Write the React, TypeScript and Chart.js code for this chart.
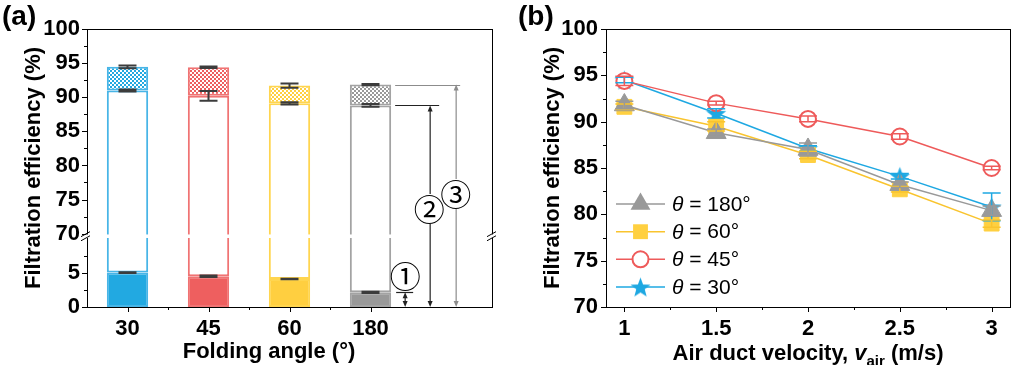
import React, { useEffect, useRef } from 'react';
import { Chart, registerables } from 'chart.js';

Chart.register(...registerables);

const FONT = "'Liberation Sans', Arial, Helvetica, sans-serif";
const CIRCLED_FONT = "'Noto Sans CJK SC', 'DejaVu Sans', sans-serif";

// ---------------- Panel (a) data ----------------
const angleLabels = ['30', '45', '60', '180'];
const mediaEff = [5.05, 4.5, 4.1, 2.15]; // ① filter media
const mediaErr = [0.05, 0.1, 0.05, 0.1];
const pleatEff = [91.0, 90.2, 89.1, 88.8]; // ② pleated
const pleatErr = [0.15, 0.7, 0.15, 0.2];
const totalEff = [94.45, 94.4, 91.7, 91.85]; // ③ total
const totalErr = [0.2, 0.12, 0.3, 0.08];
const barFill = ['#22a9e1', '#ee5f5f', '#ffcf40', '#999999'];
const barEdge = ['#48b5e7', '#f07373', '#ffd54f', '#a3a3a3'];
const yTicksA = [0, 5, 70, 75, 80, 85, 90, 95, 100];
const yMinorA = [2.5, 7.5, 72.5, 77.5, 82.5, 87.5, 92.5, 97.5];
const LOW_MAX = 10;
const HIGH_MIN = 70;
const GAP = 0.75;

// ---------------- Panel (b) data ----------------
const velocity = [1, 1.5, 2, 2.5, 3];
const xMinorB = [1.25, 1.75, 2.25, 2.75];
const yMinorB = [72.5, 77.5, 82.5, 87.5, 92.5, 97.5];
const seriesLabels = ['180°', '60°', '45°', '30°'];
const eff180 = [91.8, 88.8, 87.0, 83.2, 80.4];
const err180 = [0.4, 0.4, 0.7, 0.3, 0.5];
const eff60 = [91.6, 89.5, 86.4, 82.7, 79.0];
const err60 = [0.3, 0.5, 0.4, 0.3, 0.4];
const eff45 = [94.4, 92.0, 90.3, 88.4, 85.0];
const err45 = [0.5, 0.2, 0.3, 0.3, 0.2];
const eff30 = [94.5, 90.9, 87.1, 84.1, 80.8];
const err30 = [0.3, 0.5, 0.3, 0.3, 1.5];
const lineColors = ['#999999', '#f9c42e', '#ee5a5a', '#1ea8e2'];
const markerFill = ['#999999', '#ffd040', '#ffffff', '#1ea8e2'];

const brkA = (v: number) => (v <= LOW_MAX ? v : v - HIGH_MIN + LOW_MAX + GAP);
const unbrkA = (t: number) => (t <= LOW_MAX + GAP / 2 ? t : t - LOW_MAX - GAP + HIGH_MIN);

function makeHatch(color: string) {
  const c = document.createElement('canvas');
  c.width = 4;
  c.height = 4;
  const g = c.getContext('2d')!;
  g.fillStyle = '#ffffff';
  g.fillRect(0, 0, 4, 4);
  g.fillStyle = color;
  g.fillRect(0, 0, 2, 2);
  g.fillRect(2, 2, 2, 2);
  return g.createPattern(c, 'repeat')!;
}

function starPath(g: CanvasRenderingContext2D, cx: number, cy: number, R: number) {
  const r = R * 0.42;
  g.beginPath();
  for (let k = 0; k < 10; k++) {
    const ang = -Math.PI / 2 + (k * Math.PI) / 5;
    const rr = k % 2 === 0 ? R : r;
    g.lineTo(cx + rr * Math.cos(ang), cy + rr * Math.sin(ang));
  }
  g.closePath();
}

function makeStar(color: string, R: number) {
  const size = Math.ceil(R * 2 + 2);
  const c = document.createElement('canvas');
  c.width = size;
  c.height = size;
  const g = c.getContext('2d')!;
  starPath(g, size / 2, size / 2 + 1, R);
  g.fillStyle = color;
  g.fill();
  return c;
}

function drawErr(ctx: CanvasRenderingContext2D, x: number, yLo: number, yHi: number, half: number) {
  ctx.beginPath();
  ctx.moveTo(x, yLo);
  ctx.lineTo(x, yHi);
  ctx.moveTo(x - half, yLo);
  ctx.lineTo(x + half, yLo);
  ctx.moveTo(x - half, yHi);
  ctx.lineTo(x + half, yHi);
  ctx.stroke();
}

function arrowHead(ctx: CanvasRenderingContext2D, x: number, y: number, dir: number) {
  ctx.beginPath();
  ctx.moveTo(x, y);
  ctx.lineTo(x - 2.5, y - dir * 6);
  ctx.lineTo(x + 2.5, y - dir * 6);
  ctx.closePath();
  ctx.fill();
}

function vArrow(ctx: CanvasRenderingContext2D, x: number, yTop: number, yBot: number, breakAt: number | null, color: string) {
  ctx.strokeStyle = color;
  ctx.fillStyle = color;
  ctx.lineWidth = 1.2;
  ctx.beginPath();
  if (breakAt === null) {
    ctx.moveTo(x, yTop + 4);
    ctx.lineTo(x, yBot - 4);
  } else {
    ctx.moveTo(x, yTop + 4);
    ctx.lineTo(x, breakAt - 15);
    ctx.moveTo(x, breakAt + 15);
    ctx.lineTo(x, yBot - 4);
  }
  ctx.stroke();
  arrowHead(ctx, x, yTop, -1);
  arrowHead(ctx, x, yBot, 1);
}

function hLine(ctx: CanvasRenderingContext2D, x0: number, x1: number, y: number, color: string) {
  ctx.strokeStyle = color;
  ctx.lineWidth = 1.2;
  ctx.beginPath();
  ctx.moveTo(x0, Math.round(y) + 0.5);
  ctx.lineTo(x1, Math.round(y) + 0.5);
  ctx.stroke();
}

function drawFrame(chart: any) {
  const { ctx, chartArea: a } = chart;
  ctx.save();
  ctx.strokeStyle = '#000';
  ctx.lineWidth = 1;
  ctx.strokeRect(Math.round(a.left) + 0.5, Math.round(a.top) + 0.5, Math.round(a.right - a.left), Math.round(a.bottom - a.top));
  ctx.restore();
}

function yTitle(chart: any, text: string) {
  const { ctx, chartArea: a } = chart;
  ctx.save();
  ctx.translate(a.left - 53, (a.top + a.bottom) / 2);
  ctx.rotate(-Math.PI / 2);
  ctx.font = `bold 22px ${FONT}`;
  ctx.fillStyle = '#000';
  ctx.textAlign = 'center';
  ctx.textBaseline = 'middle';
  ctx.fillText(text, 0, 0);
  ctx.restore();
}

function panelLetter(chart: any, text: string, x: number) {
  const ctx = chart.ctx;
  ctx.save();
  ctx.font = `bold 28px ${FONT}`;
  ctx.fillStyle = '#000';
  ctx.textAlign = 'left';
  ctx.textBaseline = 'alphabetic';
  ctx.fillText(text, x, 25);
  ctx.restore();
}

const panelAPlugin = {
  id: 'panelA',
  afterDatasetsDraw(chart: any) {
    const { ctx } = chart;
    const xs = chart.scales.x;
    const ys = chart.scales.y;
    ctx.save();
    ctx.strokeStyle = '#3c3c3c';
    ctx.lineWidth = 2;
    angleLabels.forEach((_, i) => {
      const x = xs.getPixelForValue(i);
      drawErr(ctx, x, ys.getPixelForValue(brkA(mediaEff[i] - mediaErr[i])), ys.getPixelForValue(brkA(mediaEff[i] + mediaErr[i])), 9);
      drawErr(ctx, x, ys.getPixelForValue(brkA(pleatEff[i] - pleatErr[i])), ys.getPixelForValue(brkA(pleatEff[i] + pleatErr[i])), 9);
      drawErr(ctx, x, ys.getPixelForValue(brkA(totalEff[i] - totalErr[i])), ys.getPixelForValue(brkA(totalEff[i] + totalErr[i])), 9);
    });
    ctx.restore();
  },
  afterDraw(chart: any) {
    const { ctx, chartArea: a } = chart;
    const xs = chart.scales.x;
    const ys = chart.scales.y;
    drawFrame(chart);
    ctx.save();
    ctx.strokeStyle = '#000';
    ctx.lineWidth = 1;
    yTicksA.forEach((t) => {
      const y = Math.round(ys.getPixelForValue(brkA(t))) + 0.5;
      ctx.beginPath();
      ctx.moveTo(a.left - 5, y);
      ctx.lineTo(a.left, y);
      ctx.stroke();
    });
    yMinorA.forEach((t) => {
      const y = Math.round(ys.getPixelForValue(brkA(t))) + 0.5;
      ctx.beginPath();
      ctx.moveTo(a.left - 3, y);
      ctx.lineTo(a.left, y);
      ctx.stroke();
    });
    angleLabels.forEach((_, i) => {
      const x = Math.round(xs.getPixelForValue(i)) + 0.5;
      ctx.beginPath();
      ctx.moveTo(x, a.bottom);
      ctx.lineTo(x, a.bottom + 5);
      ctx.stroke();
      if (i < angleLabels.length - 1) {
        const xm = Math.round((xs.getPixelForValue(i) + xs.getPixelForValue(i + 1)) / 2) + 0.5;
        ctx.beginPath();
        ctx.moveTo(xm, a.bottom);
        ctx.lineTo(xm, a.bottom + 3);
        ctx.stroke();
      }
    });
    // axis break
    const yHi = ys.getPixelForValue(brkA(HIGH_MIN));
    const yLo = ys.getPixelForValue(LOW_MAX);
    ctx.fillStyle = '#ffffff';
    ctx.fillRect(a.left - 1, yHi + 0.8, a.right - a.left + 3, yLo - yHi - 1.6);
    ctx.strokeStyle = '#000';
    ctx.lineWidth = 1;
    [a.left - 1, a.right].forEach((x) => {
      [yHi + 0.5, yLo - 0.5].forEach((y) => {
        ctx.beginPath();
        ctx.moveTo(x - 5, y + 2.5);
        ctx.lineTo(x + 4, y - 2.5);
        ctx.stroke();
      });
    });
    // annotations on the 180° bar
    const bar = chart.getDatasetMeta(0).data[3];
    const re = bar.x + bar.width / 2;
    const y0 = ys.getPixelForValue(0);
    const y1 = ys.getPixelForValue(brkA(mediaEff[3]));
    const y2 = ys.getPixelForValue(brkA(pleatEff[3]));
    const y3 = ys.getPixelForValue(brkA(totalEff[3]));
    hLine(ctx, re + 4, re + 69, y3, '#8c8c8c');
    hLine(ctx, re + 4, re + 48, y2, '#222');
    hLine(ctx, re + 5, re + 22, y1, '#222');
    const l2 = 209;
    const l3 = 194;
    vArrow(ctx, re + 14, y1, y0, null, '#222');
    vArrow(ctx, re + 39, y2, y0, l2, '#222');
    vArrow(ctx, re + 65, y3, y0, l3, '#8c8c8c');
    ctx.fillStyle = '#000';
    ctx.font = `31px ${CIRCLED_FONT}`;
    ctx.textAlign = 'center';
    ctx.textBaseline = 'middle';
    ctx.fillText('①', re + 14, y1 - 16);
    ctx.fillText('②', re + 38, l2);
    ctx.fillText('③', re + 64.5, l3);
    ctx.font = `bold 22px ${FONT}`;
    ctx.fillStyle = '#000';
    ctx.textAlign = 'center';
    ctx.textBaseline = 'middle';
    ctx.fillText('Folding angle (°)', 269, 352);
    ctx.restore();
    yTitle(chart, 'Filtration efficiency (%)');
    panelLetter(chart, '(a)', 2);
  },
};

function drawMarker(ctx: CanvasRenderingContext2D, k: number, x: number, y: number, star: HTMLCanvasElement) {
  ctx.save();
  if (k === 0) {
    const r = 11.5;
    ctx.beginPath();
    ctx.moveTo(x, y - r);
    ctx.lineTo(x + r * Math.sin((2 * Math.PI) / 3), y - r * Math.cos((2 * Math.PI) / 3));
    ctx.lineTo(x + r * Math.sin((4 * Math.PI) / 3), y - r * Math.cos((4 * Math.PI) / 3));
    ctx.closePath();
    ctx.fillStyle = markerFill[0];
    ctx.fill();
  } else if (k === 1) {
    const s = 10.5 * Math.SQRT1_2;
    ctx.fillStyle = markerFill[1];
    ctx.fillRect(x - s, y - s, 2 * s, 2 * s);
  } else if (k === 2) {
    ctx.beginPath();
    ctx.arc(x, y, 8, 0, Math.PI * 2);
    ctx.fillStyle = '#fff';
    ctx.fill();
    ctx.strokeStyle = lineColors[2];
    ctx.lineWidth = 2;
    ctx.stroke();
  } else {
    ctx.drawImage(star, x - star.width / 2, y - star.height / 2);
  }
  ctx.restore();
}

function makePanelBPlugin(star: HTMLCanvasElement) {
  const effs = [eff180, eff60, eff45, eff30];
  const errs = [err180, err60, err45, err30];
  return {
    id: 'panelB',
    afterDatasetsDraw(chart: any) {
      const { ctx } = chart;
      const xs = chart.scales.x;
      const ys = chart.scales.y;
      ctx.save();
      ctx.lineWidth = 1.5;
      for (let k = effs.length - 1; k >= 0; k--) {
        ctx.strokeStyle = lineColors[k];
        velocity.forEach((v, i) => {
          const x = xs.getPixelForValue(v);
          drawErr(ctx, x, ys.getPixelForValue(effs[k][i] - errs[k][i]), ys.getPixelForValue(effs[k][i] + errs[k][i]), 9);
        });
      }
      ctx.restore();
    },
    afterDraw(chart: any) {
      const { ctx, chartArea: a } = chart;
      const xs = chart.scales.x;
      const ys = chart.scales.y;
      drawFrame(chart);
      ctx.save();
      ctx.strokeStyle = '#000';
      ctx.lineWidth = 1;
      for (let t = 70; t <= 100; t += 5) {
        const y = Math.round(ys.getPixelForValue(t)) + 0.5;
        ctx.beginPath();
        ctx.moveTo(a.left - 5, y);
        ctx.lineTo(a.left, y);
        ctx.stroke();
      }
      yMinorB.forEach((t) => {
        const y = Math.round(ys.getPixelForValue(t)) + 0.5;
        ctx.beginPath();
        ctx.moveTo(a.left - 3, y);
        ctx.lineTo(a.left, y);
        ctx.stroke();
      });
      velocity.forEach((v) => {
        const x = Math.round(xs.getPixelForValue(v)) + 0.5;
        ctx.beginPath();
        ctx.moveTo(x, a.bottom);
        ctx.lineTo(x, a.bottom + 5);
        ctx.stroke();
      });
      xMinorB.forEach((v) => {
        const x = Math.round(xs.getPixelForValue(v)) + 0.5;
        ctx.beginPath();
        ctx.moveTo(x, a.bottom);
        ctx.lineTo(x, a.bottom + 3);
        ctx.stroke();
      });
      // legend
      const lx0 = a.left + 10;
      const lx1 = a.left + 59;
      const rowY = [204, 231.7, 259.3, 287];
      seriesLabels.forEach((lab, k) => {
        const y = rowY[k];
        ctx.strokeStyle = lineColors[k];
        ctx.lineWidth = 1.5;
        ctx.beginPath();
        ctx.moveTo(lx0, y);
        ctx.lineTo(lx1, y);
        ctx.stroke();
        drawMarker(ctx, k, (lx0 + lx1) / 2, y, star);
        ctx.fillStyle = '#000';
        ctx.textAlign = 'left';
        ctx.textBaseline = 'middle';
        let x = lx1 + 7;
        ctx.font = `italic 21px ${FONT}`;
        ctx.fillText('θ', x, y + 1);
        x += ctx.measureText('θ').width;
        ctx.font = `21px ${FONT}`;
        ctx.fillText(' = ' + lab, x, y + 1);
      });
      const parts = [
        { t: 'Air duct velocity, ', f: `bold 22px ${FONT}`, dy: 0 },
        { t: 'v', f: `italic bold 22px ${FONT}`, dy: 0 },
        { t: 'air', f: `bold 15px ${FONT}`, dy: 6 },
        { t: ' (m/s)', f: `bold 22px ${FONT}`, dy: 0 },
      ];
      let total = 0;
      parts.forEach((p) => {
        ctx.font = p.f;
        total += ctx.measureText(p.t).width;
      });
      let x = (a.left + a.right) / 2 - total / 2;
      ctx.fillStyle = '#000';
      ctx.textAlign = 'left';
      ctx.textBaseline = 'alphabetic';
      parts.forEach((p) => {
        ctx.font = p.f;
        ctx.fillText(p.t, x, 360 + p.dy);
        x += ctx.measureText(p.t).width;
      });
      ctx.restore();
      yTitle(chart, 'Filtration efficiency (%)');
      panelLetter(chart, '(b)', 6);
    },
  };
}

const tickFont = { family: FONT, size: 22, weight: 'bold' as const };

export default function App() {
  const refA = useRef<HTMLCanvasElement | null>(null);
  const refB = useRef<HTMLCanvasElement | null>(null);

  useEffect(() => {
    const hatches = barFill.map((c) => makeHatch(c));
    const common = {
      borderColor: barEdge,
      borderWidth: 2,
      borderSkipped: false,
      grouped: false,
      barPercentage: 0.51,
      categoryPercentage: 1,
    };
    const chartA = new Chart(refA.current!, {
      type: 'bar',
      data: {
        labels: [...angleLabels, ''],
        datasets: [
          { label: 'media', data: mediaEff.map((v) => [0, brkA(v)]) as any, backgroundColor: barFill, ...common } as any,
          { label: 'pleat', data: pleatEff.map((v, i) => [brkA(mediaEff[i]), brkA(v)]) as any, backgroundColor: '#ffffff', ...common } as any,
          { label: 'total', data: totalEff.map((v, i) => [brkA(pleatEff[i]), brkA(v)]) as any, backgroundColor: hatches, ...common } as any,
        ],
      },
      options: {
        responsive: false,
        animation: false,
        layout: { padding: { top: 29, right: 20, left: 0, bottom: 0 } },
        plugins: { legend: { display: false }, tooltip: { enabled: false } },
        scales: {
          x: {
            grid: { display: false, drawTicks: false },
            border: { display: true, color: '#000', width: 1 },
            ticks: { font: tickFont, color: '#000', padding: 9, maxRotation: 0, autoSkip: false },
            afterFit: (s: any) => {
              s.height = 58;
            },
          },
          y: {
            min: 0,
            max: brkA(100),
            grid: { display: false, drawTicks: false },
            border: { display: true, color: '#000', width: 1 },
            afterBuildTicks: (s: any) => {
              s.ticks = yTicksA.map((t) => ({ value: brkA(t) }));
            },
            ticks: {
              font: tickFont,
              color: '#000',
              padding: 7,
              callback: (v: any) => String(Math.round(unbrkA(Number(v)))),
            },
            afterFit: (s: any) => {
              s.width = 87;
            },
          },
        },
      } as any,
      plugins: [panelAPlugin],
    });

    const star = makeStar(lineColors[3], 10.5);
    const effs = [eff180, eff60, eff45, eff30];
    const styles: any[] = ['triangle', 'rect', 'circle', star];
    const radii = [11.5, 10.5, 8, 10];
    const chartB = new Chart(refB.current!, {
      type: 'line',
      data: {
        datasets: effs.map((e, k) => ({
          label: 'θ = ' + seriesLabels[k],
          data: velocity.map((v, i) => ({ x: v, y: e[i] })),
          borderColor: lineColors[k],
          borderWidth: 1.5,
          pointStyle: styles[k],
          pointRadius: radii[k],
          pointBackgroundColor: markerFill[k],
          pointBorderColor: k === 2 ? lineColors[2] : markerFill[k],
          pointBorderWidth: k === 2 ? 2 : 1,
          tension: 0,
        })) as any,
      },
      options: {
        responsive: false,
        animation: false,
        layout: { padding: { top: 29, right: 14, left: 0, bottom: 0 } },
        plugins: { legend: { display: false }, tooltip: { enabled: false } },
        scales: {
          x: {
            type: 'linear',
            min: 0.9,
            max: 3.1,
            grid: { display: false, drawTicks: false },
            border: { display: true, color: '#000', width: 1 },
            afterBuildTicks: (s: any) => {
              s.ticks = velocity.map((v) => ({ value: v }));
            },
            ticks: { font: tickFont, color: '#000', padding: 9, maxRotation: 0, callback: (v: any) => String(v) },
            afterFit: (s: any) => {
              s.height = 58;
            },
          },
          y: {
            min: 70,
            max: 100,
            grid: { display: false, drawTicks: false },
            border: { display: true, color: '#000', width: 1 },
            ticks: { font: tickFont, color: '#000', padding: 8, stepSize: 5 },
            afterFit: (s: any) => {
              s.width = 94;
            },
          },
        },
      } as any,
      plugins: [makePanelBPlugin(star)],
    });

    return () => {
      chartA.destroy();
      chartB.destroy();
    };
  }, []);

  return (
    <div style={{ position: 'absolute', left: 0, top: 0, width: 1024, height: 365, background: '#fff' }}>
      <canvas ref={refA} width={512} height={365} style={{ position: 'absolute', left: 0, top: 0, width: 512, height: 365 }} />
      <canvas ref={refB} width={512} height={365} style={{ position: 'absolute', left: 512, top: 0, width: 512, height: 365 }} />
    </div>
  );
}
